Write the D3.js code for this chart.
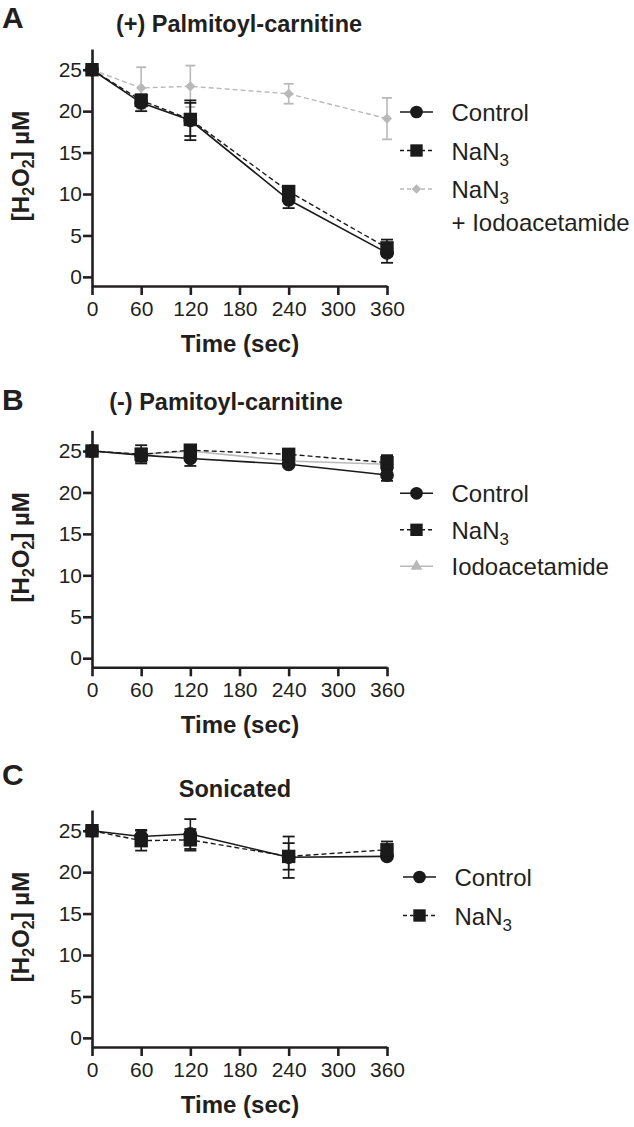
<!DOCTYPE html>
<meta charset="utf-8">
<style>
body { margin: 0; background: #fff; }
svg text { font-family: 'Liberation Sans', Arial, Helvetica, sans-serif; fill: #231f20; }
.axis path, .axis line { stroke: #231f20; stroke-width: 2.6px; }
.bold { font-weight: bold; }
.legend text { font-size: 24px; }
</style>
<svg id="svg" width="634" height="1127"></svg>
<script src="https://cdn.jsdelivr.net/npm/d3@7"></script>
<script>

// sampling times (sec) and axis ticks
const times = [0, 60, 120, 240, 360];
const timeTicks = [0, 60, 120, 180, 240, 300, 360];
const concTicks = [0, 5, 10, 15, 20, 25];

// A: (+) Palmitoyl-carnitine, [H2O2] uM
const ctrlA = [25, 21.0, 18.9, 9.3, 2.9];
const ctrlAErr = [0, 1.0, 2.4, 1.0, 1.2];
const azideA = [25, 21.3, 19.0, 10.3, 3.5];
const azideAErr = [0, 0.7, 2.0, 0.6, 1.0];
const azideIodoA = [25, 22.8, 23.0, 22.1, 19.1];
const azideIodoAErr = [0, 2.5, 2.5, 1.2, 2.5];

// B: (-) Pamitoyl-carnitine
const ctrlB = [25, 24.5, 24.1, 23.4, 22.1];
const ctrlBErr = [0, 0.8, 0.9, 0.3, 0.7];
const azideB = [25, 24.6, 25.1, 24.6, 23.6];
const azideBErr = [0, 1.1, 0.3, 0.3, 0.9];
const iodoB = [25, 24.6, 25.0, 23.8, 23.4];
const iodoBErr = [0, 0.3, 0.3, 0.3, 0.3];

// C: Sonicated
const ctrlC = [25, 24.3, 24.6, 21.8, 21.9];
const ctrlCErr = [0, 0.8, 1.8, 2.5, 0.3];
const azideC = [25, 23.8, 23.9, 21.9, 22.7];
const azideCErr = [0, 1.2, 1.3, 1.6, 1.0];

const black = '#1a1a1a';
const gray = '#b9b9b9';

function translate(x, y) {
    return 'translate(' + x + ',' + y + ')';
}

let panels = [
    {letter: 'A', title: '(+) Palmitoyl-carnitine', top: 0, titleX: 239, titleY: 31.5, letterY: 28,
     legX: 400, legY: 112, legStep: 38.5,
     series: [
        {label: 'Control', values: ctrlA, err: ctrlAErr, color: black, dash: null, symbol: 'circle'},
        {label: 'NaN', sub: '3', values: azideA, err: azideAErr, color: black, dash: '5 3', symbol: 'square'},
        {label: 'NaN', sub: '3', line2: '+ Iodoacetamide', values: azideIodoA, err: azideIodoAErr, color: gray, dash: '5 3', symbol: 'diamond'}
     ]},
    {letter: 'B', title: '(-) Pamitoyl-carnitine', top: 381.3, titleX: 226, titleY: 28.7, letterY: 28.7,
     legX: 400, legY: 112, legStep: 36.5,
     series: [
        {label: 'Control', values: ctrlB, err: ctrlBErr, color: black, dash: null, symbol: 'circle'},
        {label: 'NaN', sub: '3', values: azideB, err: azideBErr, color: black, dash: '5 3', symbol: 'square'},
        {label: 'Iodoacetamide', values: iodoB, err: iodoBErr, color: gray, dash: null, symbol: 'triangle'}
     ]},
    {letter: 'C', title: 'Sonicated', top: 761, titleX: 235, titleY: 35.7, letterY: 24,
     legX: 403, legY: 116, legStep: 38.5,
     series: [
        {label: 'Control', values: ctrlC, err: ctrlCErr, color: black, dash: null, symbol: 'circle'},
        {label: 'NaN', sub: '3', values: azideC, err: azideCErr, color: black, dash: '5 3', symbol: 'square'}
     ]}
]

let svg = d3.select('#svg')

let x = d3.scaleLinear().domain([0, 360]).range([92, 387])
let y = d3.scaleLinear().domain([-1.1, 27.5]).range([286, 49])

function symbolPath(name, small) {
    let k = small ? 0.85 : 1
    if (name === 'circle') return d3.symbol(d3.symbolCircle, 150 * k)()
    if (name === 'square') return d3.symbol(d3.symbolSquare, 180 * k)()
    if (name === 'diamond') return d3.symbol(d3.symbolSquare, 52 * k)()
    return d3.symbol(d3.symbolTriangle, 70 * k)()
}

function drawMarker(g, s, small) {
    return g.append('path')
        .attr('d', symbolPath(s.symbol, small))
        .attr('fill', s.color)
        .attr('transform', s.symbol === 'diamond' ? 'rotate(45)' : null)
}

panels.forEach(p => {
    let g = svg.append('g').attr('transform', translate(0, p.top))

    g.append('text')
        .attr('class', 'bold')
        .attr('x', 2).attr('y', p.letterY)
        .style('font-size', '30px')
        .text(p.letter)

    g.append('text')
        .attr('class', 'bold')
        .attr('x', p.titleX).attr('y', p.titleY)
        .attr('text-anchor', 'middle')
        .style('font-size', '23.5px')
        .text(p.title)

    // axes
    g.append('g')
        .attr('class', 'axis')
        .attr('transform', translate(0, 286))
        .call(d3.axisBottom(x).tickValues(timeTicks).tickSize(9).tickSizeOuter(0).tickPadding(6))
        .attr('font-size', 21)
        .attr('font-family', null)

    g.append('g')
        .attr('class', 'axis')
        .attr('transform', translate(92, 0))
        .call(d3.axisLeft(y).tickValues(concTicks).tickSize(9).tickSizeOuter(0).tickPadding(1))
        .attr('font-size', 21)
        .attr('font-family', null)

    g.append('text')
        .attr('class', 'bold')
        .attr('x', 240).attr('y', 352)
        .attr('text-anchor', 'middle')
        .style('font-size', '24px')
        .text('Time (sec)')

    let ylab = g.append('text')
        .attr('class', 'bold')
        .attr('text-anchor', 'middle')
        .attr('transform', translate(29, 166) + ' rotate(-90)')
        .style('font-size', '24px')
    ylab.append('tspan').text('[H')
    ylab.append('tspan').text('2').attr('dy', 5).style('font-size', '16px')
    ylab.append('tspan').text('O').attr('dy', -5)
    ylab.append('tspan').text('2').attr('dy', 5).style('font-size', '16px')
    ylab.append('tspan').text('] µM').attr('dy', -5)

    // series, grey ones at the back
    let order = p.series.slice().sort((a, b) => (b.color === gray) - (a.color === gray))

    let line = d3.line()
        .x((d, i) => x(times[i]))
        .y(d => y(d))

    order.forEach(s => {
        let sg = g.append('g')
        let capW = s.color === gray ? 5 : 6

        s.values.forEach((v, i) => {
            let e = s.err[i]
            if (!e) return
            let cx = x(times[i])
            sg.append('line')
                .attr('x1', cx).attr('x2', cx)
                .attr('y1', y(v - e)).attr('y2', y(v + e))
                .attr('stroke', s.color).attr('stroke-width', 1.6)
            ;[v - e, v + e].forEach(w => {
                sg.append('line')
                    .attr('x1', cx - capW).attr('x2', cx + capW)
                    .attr('y1', y(w)).attr('y2', y(w))
                    .attr('stroke', s.color).attr('stroke-width', 1.8)
            })
        })

        sg.append('path')
            .attr('d', line(s.values))
            .attr('fill', 'none')
            .attr('stroke', s.color)
            .attr('stroke-width', s.dash ? 1.4 : 1.6)
            .attr('stroke-dasharray', s.dash)

        s.values.forEach((v, i) => {
            let mg = sg.append('g').attr('transform', translate(x(times[i]), y(v)))
            drawMarker(mg, s, false)
        })
    })

    // legend
    let leg = g.append('g').attr('class', 'legend')
    p.series.forEach((s, i) => {
        let ly = p.legY + i * p.legStep
        let e = leg.append('g').attr('transform', translate(p.legX, ly))
        e.append('line')
            .attr('x1', 0).attr('x2', 33)
            .attr('stroke', s.color)
            .attr('stroke-width', s.dash ? 1.4 : 1.6)
            .attr('stroke-dasharray', s.dash ? '4 3' : null)
        drawMarker(e.append('g').attr('transform', translate(16.5, 0)), s, true)

        let t = e.append('text').attr('x', 51.5).attr('y', 9)
        t.append('tspan').text(s.label)
        if (s.sub) t.append('tspan').text(s.sub).attr('dy', 6).style('font-size', '17px')
        if (s.line2) {
            e.append('text').attr('x', 51.5).attr('y', 9 + 32.5).text(s.line2)
        }
    })
})

</script>
